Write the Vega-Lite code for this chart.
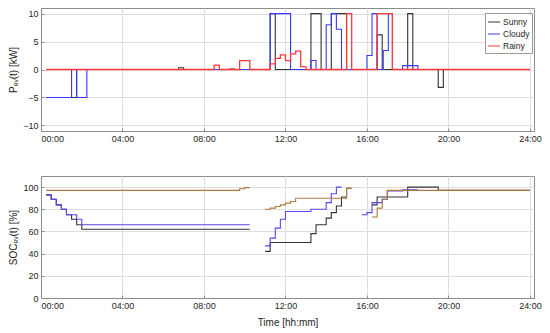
{
 "$schema": "https://vega.github.io/schema/vega-lite/v6.json",
 "padding": {"left": 8, "top": 7, "right": 11, "bottom": 2},
 "spacing": 31,
 "resolve": {"scale": {"color": "independent"}},
 "config": {
  "font": "Liberation Sans",
  "view": {"stroke": "#8c8c8c", "strokeWidth": 1},
  "axis": {"labelFontSize": 9, "labelColor": "#262626", "titleFontSize": 10, "titleColor": "#262626", "titleFontWeight": "normal", "domainColor": "#8c8c8c", "tickColor": "#8c8c8c", "gridColor": "#dedede", "tickSize": -3, "labelPadding": 6}
 },
 "vconcat": [
  {
   "width": 493, "height": 123,
   "data": {"values": [
    {"s":"Sunny","t":0.25,"p":-5},{"s":"Sunny","t":1.75,"p":0},{"s":"Sunny","t":6.75,"p":0.3},{"s":"Sunny","t":7.0,"p":0},{"s":"Sunny","t":9.25,"p":0.1},{"s":"Sunny","t":9.5,"p":0},{"s":"Sunny","t":11.25,"p":10},{"s":"Sunny","t":11.5,"p":0},{"s":"Sunny","t":13.25,"p":10},{"s":"Sunny","t":13.75,"p":0},{"s":"Sunny","t":14.25,"p":10},{"s":"Sunny","t":15.0,"p":0},{"s":"Sunny","t":16.5,"p":6.2},{"s":"Sunny","t":16.75,"p":0},{"s":"Sunny","t":18.0,"p":10},{"s":"Sunny","t":18.25,"p":0},{"s":"Sunny","t":19.5,"p":-3.2},{"s":"Sunny","t":19.75,"p":0},{"s":"Sunny","t":24,"p":0},
    {"s":"Cloudy","t":0.25,"p":-5},{"s":"Cloudy","t":1.5,"p":0},{"s":"Cloudy","t":1.75,"p":-5},{"s":"Cloudy","t":2.25,"p":0},{"s":"Cloudy","t":11.25,"p":10},{"s":"Cloudy","t":12.25,"p":0},{"s":"Cloudy","t":13.25,"p":1.6},{"s":"Cloudy","t":13.5,"p":0},{"s":"Cloudy","t":14.0,"p":8.0},{"s":"Cloudy","t":14.25,"p":10},{"s":"Cloudy","t":14.5,"p":7.2},{"s":"Cloudy","t":14.75,"p":0},{"s":"Cloudy","t":16.0,"p":2.5},{"s":"Cloudy","t":16.25,"p":10},{"s":"Cloudy","t":16.5,"p":0},{"s":"Cloudy","t":16.8,"p":3.4},{"s":"Cloudy","t":17.05,"p":10},{"s":"Cloudy","t":17.25,"p":0},{"s":"Cloudy","t":17.75,"p":0.7},{"s":"Cloudy","t":18.5,"p":0},{"s":"Cloudy","t":24,"p":0},
    {"s":"Rainy","t":0.25,"p":0},{"s":"Rainy","t":8.5,"p":0.8},{"s":"Rainy","t":8.75,"p":0},{"s":"Rainy","t":9.75,"p":1.6},{"s":"Rainy","t":10.25,"p":0},{"s":"Rainy","t":11.25,"p":1.0},{"s":"Rainy","t":11.5,"p":2.0},{"s":"Rainy","t":11.75,"p":2.6},{"s":"Rainy","t":12.0,"p":1.6},{"s":"Rainy","t":12.25,"p":2.8},{"s":"Rainy","t":12.5,"p":3.3},{"s":"Rainy","t":12.75,"p":0.5},{"s":"Rainy","t":13.0,"p":0},{"s":"Rainy","t":15.0,"p":10},{"s":"Rainy","t":15.25,"p":0},{"s":"Rainy","t":16.5,"p":10},{"s":"Rainy","t":17.25,"p":0},{"s":"Rainy","t":24,"p":0}
   ]},
   "encoding": {
    "x": {"field": "t", "type": "quantitative", "scale": {"domain": [0, 24.2], "nice": false, "zero": false},
          "axis": {"values": [0,4,8,12,16,20,24], "labelExpr": "(datum.value<10?'0':'')+datum.value+':00'", "title": null}},
    "y": {"field": "p", "type": "quantitative", "scale": {"domain": [-11, 11], "nice": false},
          "axis": {"values": [-10,-5,0,5,10], "title": "Pₑᵥ(t) [kW]"}},
    "color": {"field": "s", "type": "nominal",
              "scale": {"domain": ["Sunny","Cloudy","Rainy"], "range": ["#333333","#3a3aff","#ff3a3a"]},
              "legend": {"title": null, "orient": "none", "legendX": 444, "legendY": 5, "symbolType": "stroke", "symbolSize": 150, "symbolStrokeWidth": 1, "labelFontSize": 8.5, "labelColor": "#262626", "strokeColor": "#999999", "fillColor": "white", "padding": 2, "rowPadding": 0, "labelOffset": 2}}
   },
   "layer": [
    {"transform": [{"filter": "datum.s == 'Sunny'"}], "mark": {"type": "line", "interpolate": "step-after", "strokeWidth": 1.1}},
    {"transform": [{"filter": "datum.s == 'Cloudy'"}], "mark": {"type": "line", "interpolate": "step-after", "strokeWidth": 1.1}},
    {"transform": [{"filter": "datum.s == 'Rainy'"}], "mark": {"type": "line", "interpolate": "step-after", "strokeWidth": 1.3}}
   ]
  },
  {
   "width": 493, "height": 122,
   "data": {"values": [
    {"s":"Sunny","g":1,"t":0.25,"v":93},{"s":"Sunny","g":1,"t":0.5,"v":89},{"s":"Sunny","g":1,"t":0.75,"v":84},{"s":"Sunny","g":1,"t":1.0,"v":80},{"s":"Sunny","g":1,"t":1.25,"v":75},{"s":"Sunny","g":1,"t":1.5,"v":71},{"s":"Sunny","g":1,"t":1.75,"v":66},{"s":"Sunny","g":1,"t":2.0,"v":62},{"s":"Sunny","g":1,"t":10.25,"v":62},
    {"s":"Sunny","g":2,"t":11.0,"v":42},{"s":"Sunny","g":2,"t":11.25,"v":50},{"s":"Sunny","g":2,"t":13.25,"v":58},{"s":"Sunny","g":2,"t":13.5,"v":66},{"s":"Sunny","g":2,"t":14.0,"v":72},{"s":"Sunny","g":2,"t":14.25,"v":77},{"s":"Sunny","g":2,"t":14.5,"v":83},{"s":"Sunny","g":2,"t":14.75,"v":91},{"s":"Sunny","g":2,"t":15.0,"v":99},{"s":"Sunny","g":2,"t":15.25,"v":99},
    {"s":"Sunny","g":3,"t":16.25,"v":84},{"s":"Sunny","g":3,"t":16.5,"v":91},{"s":"Sunny","g":3,"t":18.0,"v":100},{"s":"Sunny","g":3,"t":19.5,"v":97},{"s":"Sunny","g":3,"t":24,"v":97},
    {"s":"Cloudy","g":1,"t":0.25,"v":93},{"s":"Cloudy","g":1,"t":0.5,"v":89},{"s":"Cloudy","g":1,"t":0.75,"v":84},{"s":"Cloudy","g":1,"t":1.0,"v":80},{"s":"Cloudy","g":1,"t":1.25,"v":75},{"s":"Cloudy","g":1,"t":1.75,"v":71},{"s":"Cloudy","g":1,"t":2.0,"v":66},{"s":"Cloudy","g":1,"t":10.25,"v":66},
    {"s":"Cloudy","g":2,"t":11.0,"v":47},{"s":"Cloudy","g":2,"t":11.25,"v":54},{"s":"Cloudy","g":2,"t":11.5,"v":63},{"s":"Cloudy","g":2,"t":11.75,"v":71},{"s":"Cloudy","g":2,"t":12.0,"v":78},{"s":"Cloudy","g":2,"t":13.25,"v":80},{"s":"Cloudy","g":2,"t":14.0,"v":86},{"s":"Cloudy","g":2,"t":14.25,"v":94},{"s":"Cloudy","g":2,"t":14.5,"v":100},{"s":"Cloudy","g":2,"t":14.75,"v":100},
    {"s":"Cloudy","g":3,"t":15.75,"v":75},{"s":"Cloudy","g":3,"t":16.0,"v":77},{"s":"Cloudy","g":3,"t":16.25,"v":86},{"s":"Cloudy","g":3,"t":16.75,"v":89},{"s":"Cloudy","g":3,"t":17.0,"v":96.5},{"s":"Cloudy","g":3,"t":17.75,"v":97.5},{"s":"Cloudy","g":3,"t":18.5,"v":97.5},
    {"s":"Rainy","g":1,"t":0.25,"v":97},{"s":"Rainy","g":1,"t":9.75,"v":98.5},{"s":"Rainy","g":1,"t":10.0,"v":99.5},{"s":"Rainy","g":1,"t":10.25,"v":99.5},
    {"s":"Rainy","g":2,"t":11.0,"v":80},{"s":"Rainy","g":2,"t":11.25,"v":81},{"s":"Rainy","g":2,"t":11.5,"v":82.5},{"s":"Rainy","g":2,"t":11.75,"v":84},{"s":"Rainy","g":2,"t":12.0,"v":85.5},{"s":"Rainy","g":2,"t":12.25,"v":87},{"s":"Rainy","g":2,"t":12.5,"v":90},{"s":"Rainy","g":2,"t":15.0,"v":99},{"s":"Rainy","g":2,"t":15.25,"v":99},
    {"s":"Rainy","g":3,"t":16.25,"v":73},{"s":"Rainy","g":3,"t":16.5,"v":81},{"s":"Rainy","g":3,"t":16.75,"v":89},{"s":"Rainy","g":3,"t":17.0,"v":97},{"s":"Rainy","g":3,"t":24,"v":97}
   ]},
   "encoding": {
    "x": {"field": "t", "type": "quantitative", "scale": {"domain": [0, 24.2], "nice": false, "zero": false},
          "axis": {"values": [0,4,8,12,16,20,24], "labelExpr": "(datum.value<10?'0':'')+datum.value+':00'", "title": "Time [hh:mm]", "titlePadding": 7}},
    "y": {"field": "v", "type": "quantitative", "scale": {"domain": [0, 110], "nice": false},
          "axis": {"values": [0,20,40,60,80,100], "title": "SOCₑᵥ(t) [%]"}},
    "detail": {"field": "g", "type": "nominal"},
    "color": {"field": "s", "type": "nominal",
              "scale": {"domain": ["Sunny","Cloudy","Rainy"], "range": ["#333333","#5a46f0","#b07840"]},
              "legend": null}
   },
   "layer": [
    {"transform": [{"filter": "datum.s == 'Sunny'"}], "mark": {"type": "line", "interpolate": "step-after", "strokeWidth": 1.1}},
    {"transform": [{"filter": "datum.s == 'Cloudy'"}], "mark": {"type": "line", "interpolate": "step-after", "strokeWidth": 1.1}},
    {"transform": [{"filter": "datum.s == 'Rainy'"}], "mark": {"type": "line", "interpolate": "step-after", "strokeWidth": 1.1}}
   ]
  }
 ]
}
